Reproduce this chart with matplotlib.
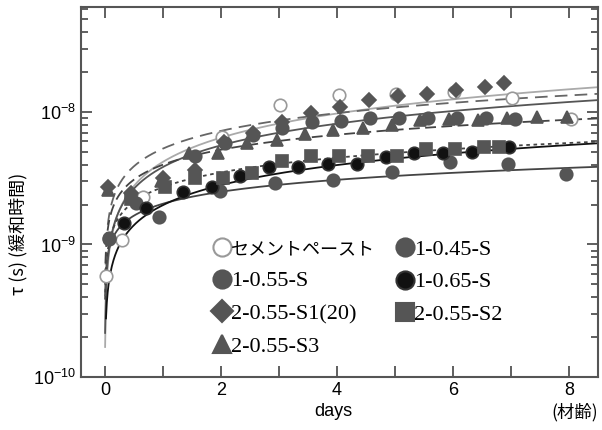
import numpy as np
import matplotlib
matplotlib.use("Agg")
import matplotlib.pyplot as plt
from matplotlib.lines import Line2D
from matplotlib.ticker import LogLocator, NullFormatter, MultipleLocator

# data (days, tau in s)
cement_x = [0.02, 0.29, 0.66, 2.02, 3.02, 4.03, 5.02, 6.02, 7.02, 8.03]
cement_y = [5.8e-10, 1.08e-9, 2.3e-9, 6.5e-9, 1.13e-8, 1.34e-8, 1.37e-8, 1.41e-8, 1.27e-8, 8.8e-9]

s045_x = [0.07, 0.93, 1.98, 2.93, 3.93, 4.95, 5.95, 6.95, 7.95]
s045_y = [1.12e-9, 1.6e-9, 2.55e-9, 2.9e-9, 3.07e-9, 3.5e-9, 4.2e-9, 4.05e-9, 3.4e-9]

s055_x = [0.07, 0.53, 1.55, 2.07, 2.55, 3.05, 3.57, 4.07, 4.57, 5.07, 5.57, 6.07, 6.57, 7.07]
s055_y = [1.1e-9, 2.06e-9, 4.65e-9, 5.8e-9, 6.7e-9, 7.6e-9, 8.4e-9, 8.5e-9, 9.0e-9, 9.0e-9, 9.0e-9, 9.0e-9, 9.0e-9, 8.9e-9]

s065_x = [0.33, 0.71, 1.34, 1.84, 2.33, 2.83, 3.33, 3.84, 4.34, 4.84, 5.33, 5.83, 6.33, 6.97]
s065_y = [1.45e-9, 1.88e-9, 2.49e-9, 2.7e-9, 3.3e-9, 3.85e-9, 3.85e-9, 4.05e-9, 4.05e-9, 4.6e-9, 4.9e-9, 4.9e-9, 5.0e-9, 5.4e-9]

s1_x = [0.05, 0.45, 1.0, 1.55, 2.05, 2.55, 3.05, 3.55, 4.05, 4.55, 5.05, 5.55, 6.05, 6.55, 6.88]
s1_y = [2.7e-9, 2.45e-9, 3.2e-9, 3.65e-9, 5.9e-9, 6.9e-9, 8.4e-9, 9.8e-9, 1.09e-8, 1.23e-8, 1.32e-8, 1.37e-8, 1.46e-8, 1.54e-8, 1.66e-8]

s2_x = [0.45, 1.03, 1.55, 2.03, 2.53, 3.05, 3.55, 4.03, 4.53, 5.03, 5.53, 6.03, 6.53, 6.79]
s2_y = [2.2e-9, 2.7e-9, 3.2e-9, 3.15e-9, 3.47e-9, 4.3e-9, 4.65e-9, 4.65e-9, 4.65e-9, 4.65e-9, 5.25e-9, 5.25e-9, 5.45e-9, 5.45e-9]

s3_x = [0.05, 0.45, 0.97, 1.45, 1.95, 2.45, 2.97, 3.45, 3.93, 4.45, 4.95, 5.43, 5.93, 6.43, 6.93, 7.45, 7.97]
s3_y = [2.6e-9, 2.45e-9, 3.0e-9, 4.9e-9, 4.9e-9, 5.8e-9, 6.1e-9, 6.8e-9, 7.3e-9, 7.6e-9, 8.0e-9, 8.7e-9, 8.85e-9, 8.7e-9, 9.0e-9, 9.2e-9, 9.2e-9]

labels = ["セメントペースト", "1-0.45-S", "1-0.55-S", "1-0.65-S",
          "2-0.55-S1(20)", "2-0.55-S2", "2-0.55-S3"]

# fitted curves tau = a * t^b
fit_a = [4.2e-9, 2.03e-9, 3.84e-9, 1.98e-9, 5.29e-9, 2.71e-9, 4.0e-9]
fit_b = [0.607, 0.30, 0.544, 0.503, 0.445, 0.369, 0.376]
fit_start = [0.005, 0.005, 0.005, 0.02, 0.005, 0.005, 0.005]

xs = [cement_x, s045_x, s055_x, s065_x, s1_x, s2_x, s3_x]
ys = [cement_y, s045_y, s055_y, s065_y, s1_y, s2_y, s3_y]

markers = ["o", "o", "o", "o", "D", "s", "^"]
face = ["white", "#555555", "#555555", "#111111", "#555555", "#555555", "#555555"]
edge = ["#999999", "#555555", "#555555", "#333333", "#555555", "#555555", "#555555"]
msize = [9, 9, 9, 9, 7.5, 8.5, 9]
line_col = ["#aaaaaa", "#444444", "#555555", "#111111", "#666666", "#444444", "#444444"]
line_sty = ["-", "-", "-", "-", (0, (7, 4)), (0, (2, 2)), (0, (6, 3))]

plt.rcParams['font.family'] = ['Liberation Sans', 'Noto Sans CJK JP']

fig = plt.figure(figsize=(6.02, 4.30), dpi=100)
ax = fig.add_axes([0.1346, 0.1233, 0.8588, 0.8604])

for i in range(len(labels)):
    t = np.linspace(fit_start[i], 8.6, 600)
    ax.plot(t, fit_a[i] * t ** fit_b[i], color=line_col[i], linestyle=line_sty[i],
            lw=1.3, zorder=2)

for i in range(len(labels)):
    ax.plot(xs[i], ys[i], linestyle="none", marker=markers[i], ms=msize[i],
            mfc=face[i], mec=edge[i], mew=1.2, zorder=3)

ax.set_yscale("log")
ax.set_xlim(-0.41, 8.5)
ax.set_ylim(1e-10, 6.2e-8)

ax.xaxis.set_major_locator(MultipleLocator(2))
ax.xaxis.set_minor_locator(MultipleLocator(1))
ax.yaxis.set_major_locator(LogLocator(base=10))
ax.yaxis.set_minor_locator(LogLocator(base=10, subs=np.arange(2, 10)))
ax.yaxis.set_minor_formatter(NullFormatter())
ax.tick_params(which="both", direction="in", top=True, right=True, color="#444444",
               labelsize=13, width=1.2)
ax.tick_params(which="major", length=8)
ax.tick_params(which="minor", length=5)
ax.tick_params(axis="x", which="minor", length=8)
for s in ax.spines.values():
    s.set_color("#555555")
    s.set_linewidth(1.5)

# legend: markers only, serif latin text
handles = []
for i in range(len(labels)):
    handles.append(Line2D([], [], linestyle="none", marker=markers[i], ms=msize[i] * 1.45,
                          mfc=face[i], mec=edge[i], mew=1.5))
order = [0, 2, 4, 6, 1, 3, 5]
leg = ax.legend([handles[k] for k in order], [labels[k] for k in order], ncol=2,
                loc="upper left", bbox_to_anchor=(0.226, 0.415), frameon=False,
                prop={'family': ['Liberation Serif', 'Noto Sans CJK JP'], 'size': 16},
                handlelength=0.75, handletextpad=0.05, labelspacing=0.55, columnspacing=0.95,
                borderpad=0.2)
leg.get_texts()[0].set_fontsize(13)

fig.text(0.553, 0.042, "days", ha="center", va="center", fontsize=13)
fig.text(0.955, 0.042, "(材齢)", ha="center", va="center", fontsize=12.5,
         family=['Noto Sans CJK JP', 'DejaVu Sans'])
fig.text(0.03, 0.455, "τ (s) (緩和時間)", ha="center", va="center", rotation=90,
         fontsize=13, family=['Noto Sans CJK JP', 'DejaVu Sans'])

fig.savefig("out.png", dpi=100)
